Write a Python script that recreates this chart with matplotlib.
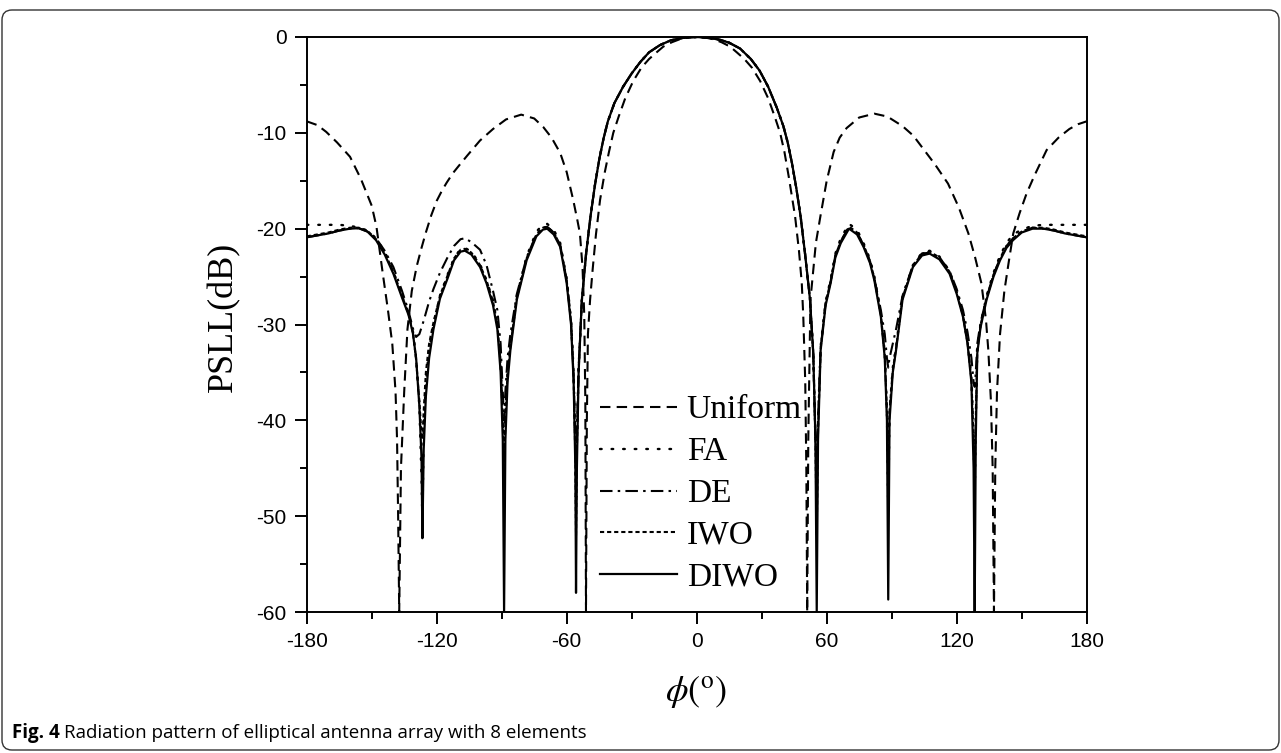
import matplotlib
matplotlib.use("Agg")
import matplotlib.pyplot as plt
from matplotlib.patches import FancyBboxPatch
from matplotlib.ticker import MultipleLocator

# Uniform array pattern (angle in degrees, level in dB)
uniform_pts = [
    (-180, -8.8), (-175, -9.2), (-171, -9.9), (-166, -11.0), (-160, -12.5),
    (-155, -14.8), (-150, -17.6), (-147.8, -19.8), (-145, -24.5), (-142.5, -28.5),
    (-140.5, -32), (-139, -37), (-138.3, -42), (-137.8, -50), (-137.3, -60),
    (-136.5, -45), (-135, -37), (-133.5, -30.5), (-131.5, -26.5), (-129.2, -23.9),
    (-127, -22.0), (-125, -20.4), (-122.5, -18.6), (-120, -17.1), (-117.5, -16.0),
    (-115.4, -15.2), (-112.5, -14.2), (-110, -13.5), (-106, -12.4),
    (-100, -10.8), (-94, -9.6), (-88, -8.6), (-81, -8.1), (-75, -8.5),
    (-70.8, -9.4), (-67, -10.5), (-63, -12.1), (-60, -14.1), (-57, -17.0),
    (-55, -19.2), (-53.9, -20.5), (-52.7, -24), (-51.9, -29), (-51.4, -38),
    (-51.1, -60), (-50.7, -40), (-50.2, -31), (-49.2, -27.4), (-48, -24.2),
    (-46.5, -20.6), (-44.6, -17.0), (-42.5, -14.2), (-40.5, -12.0), (-38.5, -10.0),
    (-36, -8.3), (-33, -6.4), (-29.3, -4.6), (-25.5, -3.2), (-22, -2.3),
    (-18.5, -1.6), (-15.4, -1.0), (-11.5, -0.55), (-8, -0.25), (-4, -0.06),
    (0, 0), (4, -0.06), (8, -0.25), (11.5, -0.55), (15.4, -1.0),
    (18.5, -1.6), (22, -2.3), (25.5, -3.2), (29.3, -4.6), (33, -6.4),
    (36, -8.3), (38.5, -10.0), (40.5, -12.0), (42.5, -14.6), (45.4, -18.7),
    (47.2, -22.3), (48.5, -25.7), (49.2, -29.2), (50.1, -36),
    (50.6, -45), (51.0, -60), (51.5, -42), (52.5, -27.4), (55, -21.5),
    (57.1, -18.7), (60, -15.0), (63.2, -12.0), (66, -10.5), (69.2, -9.5),
    (75, -8.4), (82, -8.0), (88, -8.3), (95, -9.3), (100, -10.3),
    (105, -11.8), (110, -13.3), (116, -15.3), (121, -17.8), (125.4, -20.5),
    (128.5, -23), (131.4, -25.7), (133.5, -29.5), (134.6, -32.7), (135.8, -38),
    (136.6, -45), (137.2, -60), (137.8, -45), (138.6, -37), (140, -31),
    (142, -26.5), (144, -23.5), (146.1, -20.5), (149, -18.4), (152.3, -16.3),
    (156, -14.4), (161.5, -11.8), (167, -10.5), (172, -9.6), (176, -9.1),
    (180, -8.8),
]

# shared angle grid for the optimised patterns
phi_left = [-180, -175, -170, -165, -160, -156, -152, -148, -144, -140, -136, -133, -131,
            -129.5, -128, -127, -126.6, -126, -125, -123.5, -121.5, -118.5, -115, -112,
            -109, -107, -104, -100, -97, -94, -92, -90.5, -89.5, -88.9, -88.3, -87.3, -86,
            -83, -78.5, -74, -71, -69, -66, -63, -60, -58, -56.8, -56, -55.7, -55.3, -54.5, -53]
phi_main = [-51, -49, -47, -45, -43, -41, -38, -34, -30, -26, -22, -17, -12, -6, 0, 6, 11,
            15, 20, 25, 29, 33, 37, 40, 42, 44, 46, 48, 50, 52.3, 53.8, 54.8]
phi_right = [55.4, 56, 57.2, 59.5, 61.8, 64, 66.5, 70.3, 74, 77, 80, 82, 85, 86.8, 87.8,
             88.4, 89, 90.5, 92, 95, 99.8, 104, 107.5, 112, 116.7, 120, 122.9, 125, 126.8,
             127.8, 128.3, 128.8, 129.5, 131, 133.8, 137, 140, 143, 146, 150, 155, 160, 165,
             170, 175, 180]

main_lobe_db = [-22.5, -18.7, -15.5, -12.8, -10.6, -8.8, -6.9, -5.2, -3.8, -2.6, -1.6, -0.85,
                -0.35, -0.08, 0, -0.1, -0.3, -0.6, -1.2, -2.3, -3.5, -5.2, -7.4, -9.3, -11.0,
                -13.2, -15.8, -18.8, -22.6, -27.4, -33, -42]

fa_left = [-19.6, -19.6, -19.6, -19.6, -19.7, -19.9, -20.2, -21.0, -22.4, -24.5, -27.0, -28.8,
           -30.7, -33.5, -38.5, -46, -50.5, -41, -36, -32.5, -30, -27, -24.8, -23.1, -22.1,
           -22.0, -22.4, -23.7, -25.4, -27.5, -30, -34, -40, -44, -39, -35, -32, -27, -22.9,
           -20.3, -19.6, -19.5, -20.1, -21.5, -25.2, -29.5, -35, -43, -48, -42, -34.5, -27.5]
fa_right = [-46, -40, -32.3, -27.6, -25.3, -22.6, -21.0, -19.5, -20.1, -21.5, -23.2, -25.0,
            -28.8, -33, -39, -49, -39, -34.5, -32.3, -27.1, -23.8, -22.5, -22.3, -22.9, -24.4,
            -26.5, -29, -31.8, -35.5, -42, -48, -40, -32.5, -30, -27, -24.6, -22.8, -21.5,
            -20.6, -20.1, -19.7, -19.6, -19.6, -19.6, -19.6, -19.6]

de_left = [-20.9, -20.7, -20.5, -20.2, -20.0, -19.95, -20.3, -21.0, -22.3, -24.0, -26.5, -28.6,
           -30.4, -31.3, -31.0, -30.3, -30.0, -29.6, -28.8, -27.6, -26.3, -24.6, -23.0, -21.8,
           -21.1, -21.0, -21.4, -22.2, -23.8, -26.5, -28.5, -32, -37, -40, -37, -33.5, -31,
           -26.8, -23.0, -20.6, -19.9, -19.8, -20.4, -21.7, -25.4, -29.7, -35.5, -42, -45, -41,
           -34.5, -27.4]
de_right = [-44, -40, -32.5, -27.8, -25.5, -22.8, -21.3, -19.8, -20.4, -21.7, -23.4, -25.2,
            -28.5, -31, -33.5, -34.5, -33.5, -32, -30.5, -27, -23.8, -22.6, -22.5, -23.0, -24.4,
            -26.3, -28.5, -30.8, -33.5, -36, -36.5, -35, -32, -29.8, -27.2, -24.8, -23.1, -21.8,
            -21.0, -20.3, -19.9, -20.0, -20.2, -20.5, -20.7, -20.9]

iwo_left = [-20.8, -20.6, -20.4, -20.1, -19.9, -19.9, -20.2, -21.1, -22.5, -24.5, -27.0, -28.9,
            -30.8, -33.7, -38, -41.5, -42, -39, -35, -32, -29.8, -27, -24.9, -23.1, -22.2,
            -22.1, -22.5, -23.8, -25.4, -27.6, -30, -34, -40, -46, -40, -35, -32.3, -27.2,
            -23.1, -20.6, -19.9, -19.8, -20.4, -21.7, -25.4, -29.7, -35.5, -44, -52, -43,
            -34.8, -27.5]
iwo_right = [-52, -41, -32.5, -27.8, -25.5, -22.8, -21.3, -19.8, -20.4, -21.7, -23.4, -25.2,
             -29, -33.2, -39, -45, -39, -34.8, -32.5, -27.2, -23.9, -22.6, -22.4, -23.0, -24.5,
             -26.6, -29.1, -31.9, -35.8, -42, -45, -40, -32.8, -30.1, -27.2, -24.8, -23.1,
             -21.8, -21.0, -20.3, -19.9, -19.9, -20.1, -20.4, -20.6, -20.8]

diwo_left = [-20.9, -20.7, -20.5, -20.2, -20.0, -19.95, -20.3, -21.2, -22.7, -24.7, -27.2, -29.0,
             -30.9, -33.5, -38.5, -44, -52.3, -43, -37.5, -33.5, -30.5, -27.3, -25.2, -23.3,
             -22.4, -22.3, -22.7, -24.0, -25.7, -28, -30.5, -35, -42, -60, -42, -36, -32.7,
             -27.4, -23.3, -20.8, -20.1, -20.0, -20.6, -21.9, -25.7, -30, -36, -45, -58, -45,
             -35, -27.4]
diwo_right = [-60, -42, -32.7, -28, -25.7, -23, -21.5, -20.0, -20.6, -21.9, -23.6, -25.4, -29.2,
              -33.5, -40, -58.7, -40, -35, -32.7, -27.4, -24, -22.8, -22.6, -23.2, -24.7, -26.8,
              -29.2, -32, -36.1, -45, -60, -42, -33, -30.3, -27.4, -25, -23.3, -22, -21.2, -20.4,
              -20.0, -20.0, -20.2, -20.5, -20.7, -20.9]

labels = ["Uniform", "FA", "DE", "IWO", "DIWO"]

plt.rcParams['axes.unicode_minus'] = False
plt.rcParams['mathtext.fontset'] = 'stix'

W, H = 1281, 753
fig = plt.figure(figsize=(W / 100, H / 100), dpi=100)

# rounded frame around the figure
frame = FancyBboxPatch((2, 3), W - 4, H - 13, boxstyle="round,pad=0,rounding_size=10",
                       transform=None, fill=False, edgecolor="#333333", lw=1.0)
fig.patches.append(frame)

x0, x1, y0, y1 = 306.7, 1086.7, 37, 612
ax = fig.add_axes([x0 / W, 1 - y1 / H, (x1 - x0) / W, (y1 - y0) / H])

phi_opt = phi_left + phi_main + phi_right
series = [
    (fa_left + main_lobe_db + fa_right, dict(dashes=(0.7, 4.2), dash_capstyle='round', lw=1.7)),
    (de_left + main_lobe_db + de_right, dict(dashes=(6, 2.5, 1.2, 2.5), lw=1.5)),
    (iwo_left + main_lobe_db + iwo_right, dict(dashes=(2.0, 1.4), lw=1.5)),
    (diwo_left + main_lobe_db + diwo_right, dict(lw=1.6)),
]
for vals, _ in series:
    assert len(vals) == len(phi_opt)

ang_u = [p[0] for p in uniform_pts]
db_u = [p[1] for p in uniform_pts]
ax.plot(ang_u, db_u, color='black', lw=1.5, dashes=(5, 3), label=labels[0])
for (vals, style), lab in zip(series, labels[1:]):
    ax.plot(phi_opt, vals, color='black', label=lab, **style)

ax.set_xlim(-180, 180)
ax.set_ylim(-60, 0)
ax.xaxis.set_major_locator(MultipleLocator(60))
ax.xaxis.set_minor_locator(MultipleLocator(30))
ax.yaxis.set_major_locator(MultipleLocator(10))
ax.yaxis.set_minor_locator(MultipleLocator(5))
ax.tick_params(which='major', direction='out', length=8.5, width=1.4, labelsize=15, pad=6)
ax.tick_params(which='minor', direction='out', length=5, width=1.4)
for lab in ax.get_xticklabels() + ax.get_yticklabels():
    lab.set_fontfamily('Liberation Sans')
for sp in ax.spines.values():
    sp.set_linewidth(1.4)

ax.legend(loc='upper left', bbox_to_anchor=((600 - x0) / (x1 - x0), (y1 - 395) / (y1 - y0)),
          frameon=False, prop={'family': 'Liberation Serif', 'size': 24},
          handlelength=2.3, handletextpad=0.3, labelspacing=0.34,
          borderpad=0, borderaxespad=0)

fig.text(224 / W, 1 - 317 / H, 'PSLL(dB)', rotation=90, ha='center', va='center',
         family='Liberation Serif', fontsize=26)
fig.text(696 / W, 1 - 692 / H, r'$\phi(^{\rm o})$', ha='center', va='center', fontsize=26)

cap1 = fig.text(12 / W, 1 - 733 / H, 'Fig. 4', ha='left', va='center',
                family='Open Sans', weight='bold', fontsize=13.5)
fig.canvas.draw()
bb = cap1.get_window_extent()
fig.text((bb.x1 + 4) / W, 1 - 733 / H, 'Radiation pattern of elliptical antenna array with 8 elements',
         ha='left', va='center', family='Open Sans', fontsize=13.5)

fig.savefig('out.png', dpi=100)
